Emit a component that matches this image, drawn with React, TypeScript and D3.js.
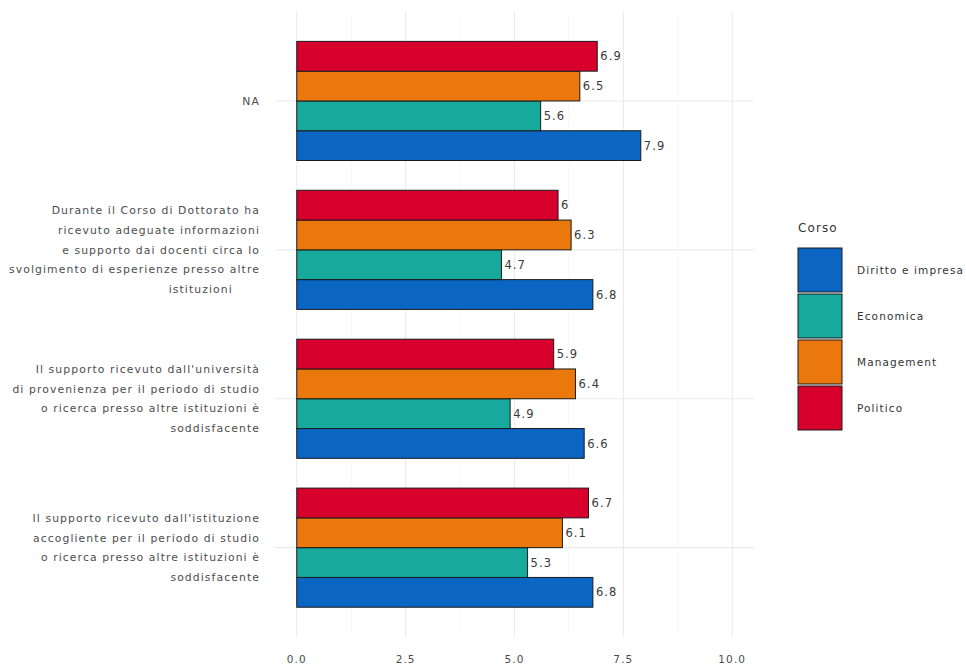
import React from "react";
import * as d3 from "d3";

const categories = ["NA", "Durante", "Universita", "Istituzione"];
const categoryLines: string[][] = [
  ["NA"],
  [
    "Durante il Corso di Dottorato ha",
    "ricevuto adeguate informazioni",
    "e supporto dai docenti circa lo",
    "svolgimento di esperienze presso altre",
    "istituzioni      ",
  ],
  [
    "Il supporto ricevuto dall'università",
    "di provenienza per il periodo di studio",
    "o ricerca presso altre istituzioni è",
    "soddisfacente",
  ],
  [
    "Il supporto ricevuto dall'istituzione",
    "accogliente per il periodo di studio",
    "o ricerca presso altre istituzioni è",
    "soddisfacente",
  ],
];
const seriesNames = ["Diritto e impresa", "Economica", "Management", "Politico"];
const seriesColors = ["#0b66c3", "#17a99b", "#ea780c", "#d7002d"];
const dirittoValues = [7.9, 6.8, 6.6, 6.8];
const economicaValues = [5.6, 4.7, 4.9, 5.3];
const managementValues = [6.5, 6.3, 6.4, 6.1];
const politicoValues = [6.9, 6.0, 5.9, 6.7];
const xTicks = [0, 2.5, 5, 7.5, 10];
const xMinorTicks = [1.25, 3.75, 6.25, 8.75];

const seriesValues = [dirittoValues, economicaValues, managementValues, politicoValues];

export default function App() {
  const W = 966;
  const H = 666;
  const panel = { left: 275, right: 754, top: 11.6, bottom: 637 };
  const x = d3.scaleLinear().domain([-0.5, 10.5]).range([panel.left, panel.right]);
  const y = d3
    .scalePoint<string>()
    .domain(categories)
    .range([panel.top, panel.bottom])
    .padding(0.6);
  const step = y.step();
  const inner = d3
    .scaleBand<string>()
    .domain([...seriesNames].reverse())
    .range([-0.4 * step, 0.4 * step])
    .paddingInner(0);
  const font = "'DejaVu Sans', sans-serif";
  const lineH = 19.8;
  const ls = 1.1;

  return (
    <svg
      width={W}
      height={H}
      style={{ position: "absolute", left: 0, top: 0, background: "#fff" }}
      fontFamily={font}
    >
      {/* grid */}
      {xMinorTicks.map((t) => (
        <line key={"mi" + t} x1={x(t)} x2={x(t)} y1={panel.top} y2={panel.bottom} stroke="#f3f3f3" strokeWidth={0.6} />
      ))}
      {xTicks.map((t) => (
        <line key={"ma" + t} x1={x(t)} x2={x(t)} y1={panel.top} y2={panel.bottom} stroke="#ebebeb" strokeWidth={1.1} />
      ))}
      {categories.map((c) => (
        <line key={"hy" + c} x1={panel.left} x2={panel.right} y1={y(c)} y2={y(c)} stroke="#ebebeb" strokeWidth={1.1} />
      ))}
      {/* bars */}
      {categories.map((c, ci) =>
        seriesNames.map((s, si) => {
          const v = seriesValues[si][ci];
          const y0 = (y(c) as number) + (inner(s) as number);
          const bh = inner.bandwidth();
          return (
            <g key={c + s}>
              <rect
                x={x(0)}
                y={y0}
                width={x(v) - x(0)}
                height={bh}
                fill={seriesColors[si]}
                stroke="#1a1a1a"
                strokeWidth={1}
              />
              <text x={x(v) + 3} y={y0 + bh / 2} dy="0.36em" fontSize={11.5} letterSpacing={ls} fill="#3a3a3a">
                {String(v)}
              </text>
            </g>
          );
        })
      )}
      {/* y axis labels */}
      {categories.map((c, ci) => {
        const lines = categoryLines[ci];
        const cy = y(c) as number;
        const startY = cy - ((lines.length - 1) * lineH) / 2;
        return (
          <text key={"yl" + c} textAnchor="end" fontSize={10.8} letterSpacing={ls} fill="#4d4d4d" style={{ whiteSpace: "pre" }}>
            {lines.map((l, li) => (
              <tspan key={li} x={260} y={startY + li * lineH} dy="0.35em">
                {l}
              </tspan>
            ))}
          </text>
        );
      })}
      {/* x axis labels */}
      {xTicks.map((t) => (
        <text key={"xl" + t} x={x(t)} y={659} dy="0.35em" textAnchor="middle" fontSize={10.5} letterSpacing={ls} fill="#4d4d4d">
          {t.toFixed(1)}
        </text>
      ))}
      {/* legend */}
      <text x={798} y={228} dy="0.35em" fontSize={12} letterSpacing={ls} fill="#333">
        Corso
      </text>
      {seriesNames.map((s, si) => {
        const ky = 248 + si * 46;
        return (
          <g key={"lg" + s}>
            <rect x={798} y={ky} width={44} height={44} fill={seriesColors[si]} stroke="#1a1a1a" strokeWidth={1} />
            <text x={857} y={ky + 22} dy="0.35em" fontSize={10.5} letterSpacing={ls} fill="#333">
              {s}
            </text>
          </g>
        );
      })}
    </svg>
  );
}
